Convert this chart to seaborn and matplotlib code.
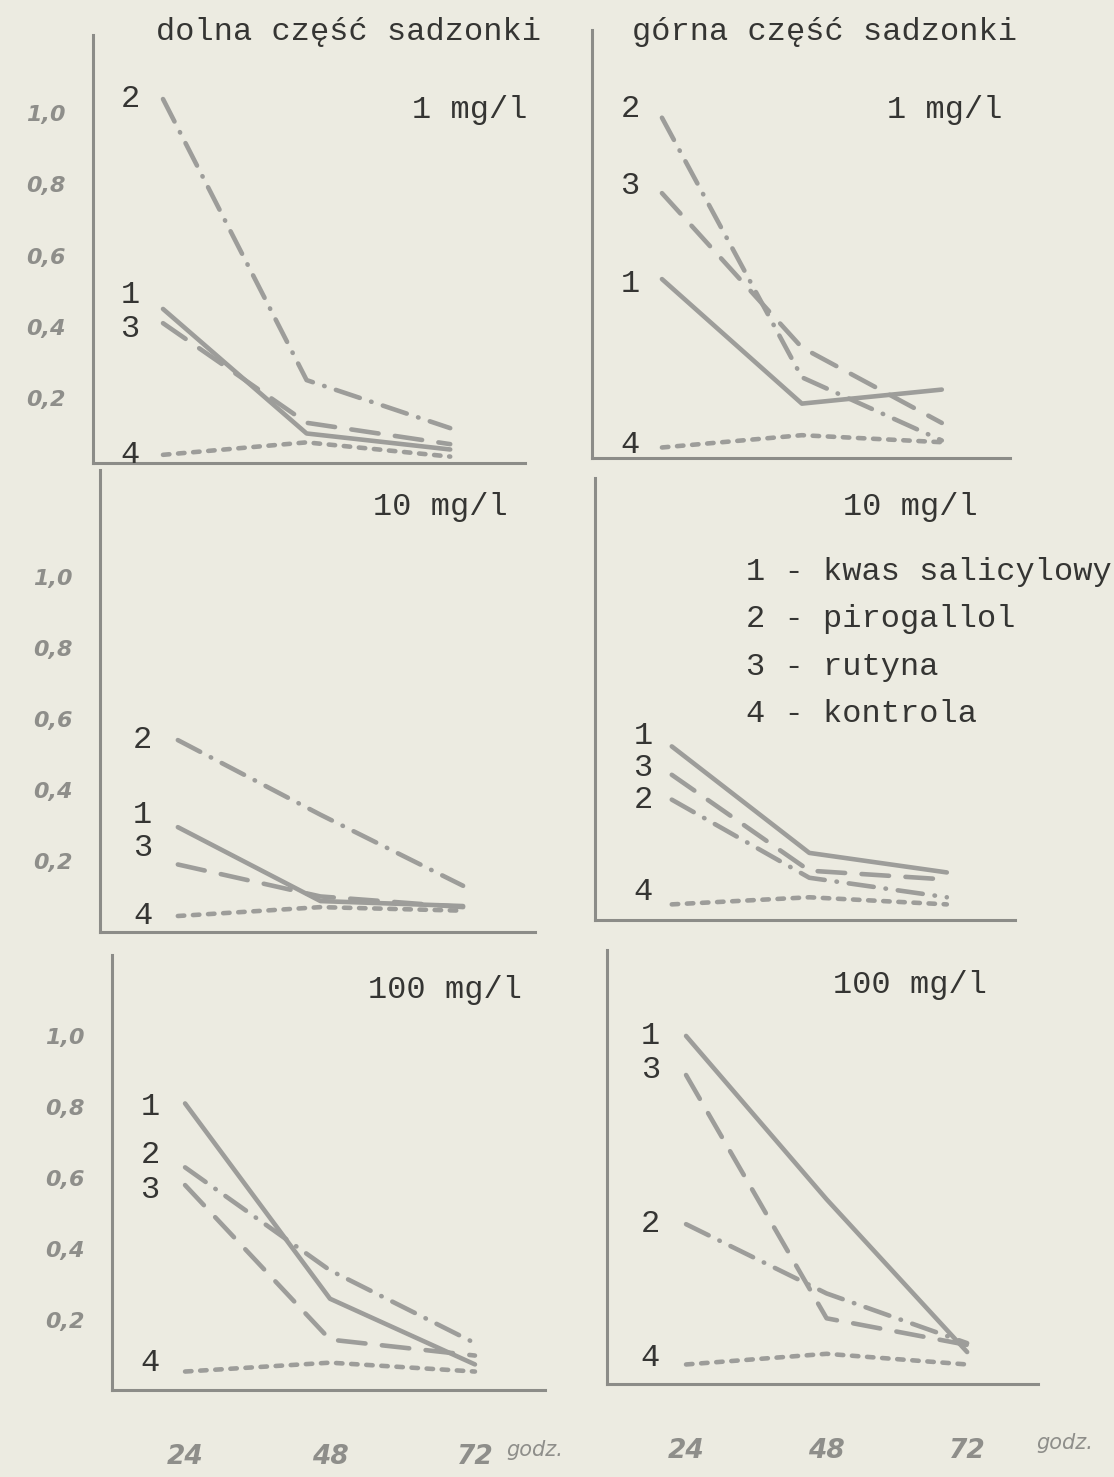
import pandas as pd
import seaborn as sns
import matplotlib.pyplot as plt

# godziny pomiaru
hours = [24, 48, 72]
series = ['1', '2', '3', '4']
legend_names = ['kwas salicylowy', 'pirogallol', 'rutyna', 'kontrola']

# wartosci, kolejnosc serii: 1, 2, 3, 4
dolna_1mg = [[0.45, 0.10, 0.055], [1.04, 0.25, 0.115], [0.41, 0.13, 0.07], [0.04, 0.075, 0.035]]
gorna_1mg = [[0.51, 0.155, 0.195], [0.97, 0.23, 0.05], [0.755, 0.315, 0.10], [0.03, 0.065, 0.045]]
dolna_10mg = [[0.295, 0.087, 0.073], [0.54, 0.33, 0.13], [0.19, 0.10, 0.07], [0.045, 0.07, 0.06]]
gorna_10mg = [[0.50, 0.20, 0.145], [0.35, 0.13, 0.075], [0.42, 0.15, 0.125], [0.055, 0.075, 0.055]]
dolna_100mg = [[0.81, 0.26, 0.075], [0.63, 0.34, 0.135], [0.58, 0.145, 0.10], [0.055, 0.08, 0.055]]
gorna_100mg = [[0.98, 0.52, 0.09], [0.45, 0.255, 0.115], [0.87, 0.185, 0.11], [0.055, 0.085, 0.055]]

y_ticks = [0.2, 0.4, 0.6, 0.8, 1.0]
y_tick_labels = ['0,2', '0,4', '0,6', '0,8', '1,0']

W, H = 1114, 1477
PAPER = '#ecebe1'
LINE = '#9d9d9a'
AXIS = '#8c8c88'
INK = '#353533'
TICKTXT = '#8e8e8a'
TYPE = 'Liberation Mono'
TSIZE = 23

DASHES = {'1': '', '2': (5.5, 2.6, 0.1, 2.6), '3': (6, 3.6), '4': (1.4, 1.9)}


def rect(x0, y0, x1, y1):
    return [x0 / W, 1 - y1 / H, (x1 - x0) / W, (y1 - y0) / H]


def to_long(values):
    rows = []
    for name, vals in zip(series, values):
        for h, v in zip(hours, vals):
            rows.append({'godz': h, 'wartosc': v, 'seria': name})
    return pd.DataFrame(rows)


sns.set_theme(style='white')
plt.rcParams['font.family'] = ['DejaVu Sans']

fig = plt.figure(figsize=(W / 100, H / 100), dpi=100, facecolor=PAPER)

# panel: dane, prostokat w pikselach, ylim, xlim, tekst stezenia, pozycje etykiet serii
panels = [
    (dolna_1mg, (93, 35, 525, 463), (0.017, 1.22), (12.3, 84.5), '1 mg/l', (470, 110),
     {'2': (18.5, 1.04), '1': (18.5, 0.49), '3': (18.5, 0.395), '4': (18.5, 0.04)}, 'left', False),
    (gorna_1mg, (592, 30, 1010, 458), (0.0, 1.22), (12.0, 83.7), '1 mg/l', (945, 110),
     {'2': (18.5, 0.995), '3': (18.5, 0.775), '1': (18.5, 0.495), '4': (18.5, 0.037)}, 'right', False),
    (dolna_10mg, (100, 470, 535, 932), (0.0, 1.30), (10.9, 84.1), '10 mg/l', (440, 507),
     {'2': (18.1, 0.54), '1': (18.1, 0.33), '3': (18.1, 0.235), '4': (18.1, 0.045)}, 'left', False),
    (gorna_10mg, (595, 478, 1015, 920), (0.011, 1.256), (10.6, 83.9), '10 mg/l', (910, 507),
     {'1': (19.0, 0.53), '3': (19.0, 0.44), '2': (19.0, 0.35), '4': (19.0, 0.09)}, 'right', False),
    (dolna_100mg, (112, 955, 545, 1390), (0.003, 1.228), (11.9, 83.6), '100 mg/l', (445, 990),
     {'1': (18.2, 0.80), '2': (18.2, 0.665), '3': (18.2, 0.565), '4': (18.2, 0.08)}, 'left', True),
    (gorna_100mg, (607, 950, 1038, 1384), (0.0, 1.222), (10.5, 84.1), '100 mg/l', (910, 985),
     {'1': (17.9, 0.98), '3': (17.9, 0.885), '2': (17.9, 0.45), '4': (17.9, 0.073)}, 'right', True),
]

for values, box, ylim, xlim, conc, conc_xy, label_pos, side, bottom in panels:
    ax = fig.add_axes(rect(*box))
    ax.set_facecolor(PAPER)
    df = to_long(values)
    sns.lineplot(data=df, x='godz', y='wartosc', style='seria', dashes=DASHES,
                 color=LINE, linewidth=3.3, dash_capstyle='round',
                 solid_capstyle='round', legend=False, ax=ax)
    ax.set_xlim(*xlim)
    ax.set_ylim(*ylim)
    ax.set_xlabel('')
    ax.set_ylabel('')
    for s in ['top', 'right']:
        ax.spines[s].set_visible(False)
    for s in ['left', 'bottom']:
        ax.spines[s].set_color(AXIS)
        ax.spines[s].set_linewidth(2.2)
    ax.set_xticks(hours)
    ax.set_yticks(y_ticks)
    ax.tick_params(axis='both', direction='out', length=15, width=1.8, color=AXIS)
    ax.tick_params(axis='x', pad=24)
    if side == 'left':
        ax.set_yticklabels(y_tick_labels, fontstyle='italic', fontweight='bold',
                           fontsize=16, color=TICKTXT)
        ax.tick_params(axis='y', pad=5)
    else:
        ax.set_yticklabels([])
    if bottom:
        ax.set_xticklabels([str(h) for h in hours], fontstyle='italic', fontweight='bold',
                           fontsize=19, color=TICKTXT)
    else:
        ax.set_xticklabels([])
    for name, (lx, ly) in label_pos.items():
        ax.text(lx, ly, name, ha='center', va='center', fontsize=TSIZE,
                family=TYPE, color=INK)
    fig.text(conc_xy[0] / W, 1 - conc_xy[1] / H, conc, ha='center', va='center',
             fontsize=TSIZE, family=TYPE, color=INK)

# tytuly kolumn
fig.text(348 / W, 1 - 32 / H, 'dolna część sadzonki', ha='center', va='center',
         fontsize=TSIZE, family=TYPE, color=INK)
fig.text(825 / W, 1 - 32 / H, 'górna część sadzonki', ha='center', va='center',
         fontsize=TSIZE, family=TYPE, color=INK)

# legenda
for i, (name, desc) in enumerate(zip(series, legend_names)):
    fig.text(746 / W, 1 - (572 + i * 47.5) / H, f'{name} - {desc}', ha='left', va='center',
             fontsize=TSIZE, family=TYPE, color=INK)

# jednostka osi x
fig.text(535 / W, 1 - 1450 / H, 'godz.', ha='center', va='center', fontsize=15,
         fontstyle='italic', color=TICKTXT)
fig.text(1065 / W, 1 - 1443 / H, 'godz.', ha='center', va='center', fontsize=15,
         fontstyle='italic', color=TICKTXT)

fig.savefig('out.png', dpi=100, facecolor=PAPER)
